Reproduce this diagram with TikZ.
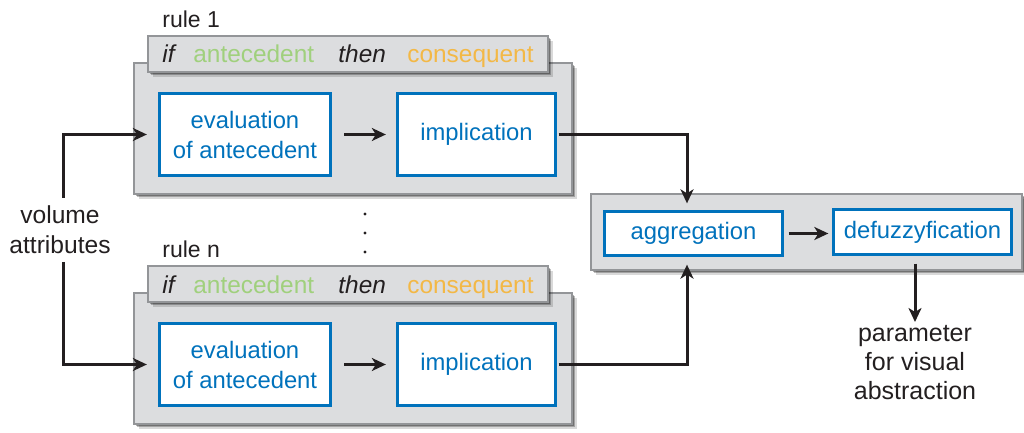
\documentclass[tikz,border=0pt]{standalone}
\usepackage{fontspec}
\setmainfont{Liberation Sans}
\usetikzlibrary{shadows,arrows.meta,calc}

\definecolor{boxblue}{RGB}{0,114,188}
\definecolor{panelgray}{RGB}{220,221,223}
\definecolor{edgegray}{RGB}{147,149,152}
\definecolor{antegreen}{RGB}{160,208,125}
\definecolor{conseqorange}{RGB}{243,184,70}
\definecolor{ink}{RGB}{35,31,32}

\begin{document}
\begin{tikzpicture}[x=0.5pt,y=-0.5pt,
  softshadow/.style={
    drop shadow={shadow xshift=0.8pt,shadow yshift=-0.8pt,opacity=.3,fill=black},
    drop shadow={shadow xshift=1.6pt,shadow yshift=-1.6pt,opacity=.25,fill=black},
    drop shadow={shadow xshift=2.5pt,shadow yshift=-2.5pt,opacity=.15,fill=black}},
  panel/.style={draw=edgegray, line width=1pt, fill=panelgray, softshadow, inner sep=0pt},
  stepbox/.style={draw=boxblue, line width=1.65pt, fill=white, text=boxblue,
    align=center, font=\fontsize{11.9}{15}\selectfont, inner sep=0pt},
  arr/.style={draw=ink, line width=1.5pt, -{Stealth[length=7pt,width=6.5pt,inset=2pt]}},
  lbl/.style={text=ink, font=\fontsize{12.3}{15}\selectfont, inner sep=0pt},
  rulelbl/.style={text=ink, font=\fontsize{11.5}{14}\selectfont, inner sep=0pt, anchor=base west},
  hdr/.style={font=\fontsize{12.2}{14}\selectfont, inner sep=0pt, anchor=base west},
]
\useasboundingbox (0,0) rectangle (1024,433);

% ---------- rule 1 ----------
\node[rulelbl] (lab1) at (162,28) {rule 1};
\node[panel, minimum width=219pt, minimum height=65.5pt] (rule1) at (353,128.5) {};
\node[panel, minimum width=200pt, minimum height=18pt] (head1) at (348,54) {};
\node[hdr, text=ink] (if1) at (162,63) {\itshape if};
\node[hdr, text=antegreen] (ante1) at (193,63) {antecedent};
\node[hdr, text=ink] (then1) at (338,63) {\itshape then};
\node[hdr, text=conseqorange] (cons1) at (407,63) {consequent};
\node[stepbox, minimum width=85.5pt, minimum height=41pt] (eval1) at (245,134.5) {evaluation\\of antecedent};
\node[stepbox, minimum width=79pt, minimum height=41pt] (impl1) at (476.5,134.5) {implication};

% ---------- rule n ----------
\node[rulelbl] (labn) at (162,257) {rule n};
\node[panel, minimum width=219pt, minimum height=65.5pt] (rulen) at (353,358.5) {};
\node[panel, minimum width=200pt, minimum height=18pt] (headn) at (348,284) {};
\node[hdr, text=ink] (ifn) at (162,293) {\itshape if};
\node[hdr, text=antegreen] (anten) at (193,293) {antecedent};
\node[hdr, text=ink] (thenn) at (338,293) {\itshape then};
\node[hdr, text=conseqorange] (consn) at (407,293) {consequent};
\node[stepbox, minimum width=85.5pt, minimum height=41pt] (evaln) at (245,364.5) {evaluation\\of antecedent};
\node[stepbox, minimum width=79pt, minimum height=41pt] (impln) at (476.5,364.5) {implication};

% dots between the rules
\foreach \yy in {214,233,252} \fill[ink] (365,\yy) circle (0.8pt);

% ---------- aggregation stage ----------
\node[panel, minimum width=215.5pt, minimum height=38pt] (stage) at (806.5,232) {};
\node[stepbox, minimum width=89pt, minimum height=22pt] (agg) at (693.5,233.5) {aggregation};
\node[stepbox, minimum width=89pt, minimum height=22.5pt] (defuzz) at (922.5,232) {defuzzyfication};

% ---------- labels ----------
\node[lbl, align=center, anchor=north] (vol) at (60,205) {volume\\attributes};
\node[lbl, align=center, anchor=north, font=\fontsize{12.5}{14.5}\selectfont] (param) at (915,325) {parameter\\for visual\\abstraction};

% ---------- connectors ----------
\coordinate (vtop) at (63,198);
\coordinate (vbot) at (63,262);
\coordinate (aggx) at (687,0);
\coordinate (outx) at (915,0);

\draw[arr, shorten >=5.5pt] (vtop) |- (eval1.west);
\draw[arr, shorten >=5.5pt] (vbot) |- (evaln.west);
\draw[arr, shorten <=6pt, shorten >=5pt] (eval1) -- (impl1);
\draw[arr, shorten <=6pt, shorten >=5pt] (evaln) -- (impln);
\draw[arr, shorten <=0.75pt, shorten >=3.25pt] (impl1.east) -| (agg.north -| aggx);
\draw[arr, shorten <=0.75pt, shorten >=3.75pt] (impln.east) -| (agg.south -| aggx);
\draw[arr, shorten <=2.25pt, shorten >=1.75pt] (agg.east) -- (agg.east -| defuzz.west);
\draw[arr, shorten <=3.75pt, shorten >=1.5pt] (defuzz.south -| outx) -- (param.north -| outx);
\end{tikzpicture}
\end{document}
